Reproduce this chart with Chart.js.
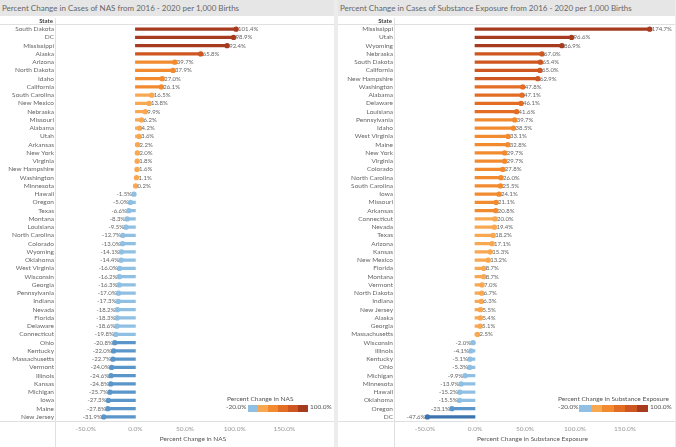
<!DOCTYPE html>
<html>
<head>
<meta charset="utf-8">
<script src="https://cdn.jsdelivr.net/npm/chart.js@4/dist/chart.umd.min.js"></script>
<style>
  body { margin: 0; width: 676px; height: 447px; background: #fff; position: relative; overflow: hidden; font-family: Lato, "Open Sans", sans-serif; }
  .panel { position: absolute; top: 0; height: 447px; background: #fff; }
  .title { position: absolute; left: 0; top: 0; right: 0; height: 16px; background: #e6e6e6; color: #666; font-size: 8px; line-height: 16px; padding-left: 2px; white-space: nowrap; }
  .gap { position: absolute; top: 0; height: 447px; background: #ececec; }
  canvas { position: absolute; left: 0; top: 16px; }
  .legend { position: absolute; font-size: 6.5px; color: #555; white-space: nowrap; }
  .lbar { position: absolute; height: 7px; display: flex; }
  .lbar div { flex: 1; }
</style>
</head>
<body>
<div class="panel" id="p1" style="left:0;width:334px;">
  <div class="title">Percent Change in Cases of NAS from 2016 - 2020 per 1,000 Births</div>
  <canvas id="nasChart" width="334" height="431"></canvas>
</div>
<div class="gap" style="left:334px;width:4px;"></div>
<div class="panel" id="p2" style="left:338px;width:337px;">
  <div class="title">Percent Change in Cases of Substance Exposure from 2016 - 2020 per 1,000 Births</div>
  <canvas id="seChart" width="337" height="431"></canvas>
</div>
<div class="gap" style="left:675px;width:1px;"></div>

<div class="legend" style="left:227px;top:395px;">Percent Change in NAS</div>
<div class="legend" style="left:226px;top:403px;">-20.0%</div>
<div class="lbar" id="leg1" style="left:248px;top:405px;width:60px;"></div>
<div class="legend" style="left:310px;top:403px;">100.0%</div>

<div class="legend" style="left:558px;top:395px;">Percent Change in Substance Exposure</div>
<div class="legend" style="left:558px;top:403px;">-20.0%</div>
<div class="lbar" id="leg2" style="left:579px;top:405px;width:69px;"></div>
<div class="legend" style="left:650px;top:403px;">100.0%</div>

<script>
// NAS panel
const nasStates = ['South Dakota','DC','Mississippi','Alaska','Arizona','North Dakota','Idaho','California',
  'South Carolina','New Mexico','Nebraska','Missouri','Alabama','Utah','Arkansas','New York','Virginia',
  'New Hampshire','Washington','Minnesota','Hawaii','Oregon','Texas','Montana','Louisiana','North Carolina',
  'Colorado','Wyoming','Oklahoma','West Virginia','Wisconsin','Georgia','Pennsylvania','Indiana','Nevada',
  'Florida','Delaware','Connecticut','Ohio','Kentucky','Massachusetts','Vermont','Illinois','Kansas',
  'Michigan','Iowa','Maine','New Jersey'];
const nasValues = [101.4, 98.9, 92.4, 65.8, 39.7, 37.9, 27.0, 26.1, 16.5, 13.8, 9.9, 6.2, 4.2, 3.6, 2.2, 2.0, 1.8,
  1.6, 1.1, 0.2, -1.5, -5.0, -6.6, -8.3, -9.5, -12.7, -13.0, -14.1, -14.4, -16.0, -16.2, -16.3, -17.0, -17.3,
  -18.2, -18.3, -18.6, -19.8, -20.8, -22.0, -22.7, -24.0, -24.6, -24.8, -25.7, -27.3, -27.8, -31.9];

// Substance exposure panel
const seStates = ['Mississippi','Utah','Wyoming','Nebraska','South Dakota','California','New Hampshire',
  'Washington','Alabama','Delaware','Louisiana','Pennsylvania','Idaho','West Virginia','Maine','New York',
  'Virginia','Colorado','North Carolina','South Carolina','Iowa','Missouri','Arkansas','Connecticut','Nevada',
  'Texas','Arizona','Kansas','New Mexico','Florida','Montana','Vermont','North Dakota','Indiana','New Jersey',
  'Alaska','Georgia','Massachusetts','Wisconsin','Illinois','Kentucky','Ohio','Michigan','Minnesota',
  'Hawaii','Oklahoma','Oregon','DC'];
const seValues = [174.7, 96.6, 86.9, 67.0, 65.4, 65.0, 62.9, 47.8, 47.1, 46.1, 41.6, 39.7, 38.5, 33.1, 32.8,
  29.7, 29.7, 27.8, 26.0, 25.5, 24.1, 21.1, 20.8, 20.0, 19.4, 18.2, 17.1, 15.3, 13.2, 8.7, 8.7, 7.0, 6.7, 6.3,
  5.5, 5.4, 5.1, 2.5, -2.0, -4.1, -5.1, -5.3, -9.9, -13.9, -15.2, -15.5, -23.1, -47.6];

const xTickValues = [-50, 0, 50, 100, 150];
const legendColors = ['#8fc0e3', '#f9a852', '#f28b30', '#e36d25', '#cd5621', '#a63b1f'];
const deepBlue = '#3b74ae';
const midBlue = '#5b96cb';

function colorFor(v) {
  if (v < -40) return deepBlue;
  if (v < -20) return midBlue;
  if (v < 0) return legendColors[0];
  if (v <= 20) return legendColors[1];
  if (v < 40) return legendColors[2];
  if (v < 60) return legendColors[3];
  if (v < 80) return legendColors[4];
  return legendColors[5];
}

Chart.defaults.font.family = 'Lato, "Open Sans", sans-serif';

const framePlugin = {
  id: 'frame',
  afterDatasetsDraw(chart) {
    const ctx = chart.ctx;
    const a = chart.chartArea;
    const meta = chart.getDatasetMeta(1);
    const vals = chart.data.datasets[1].data;
    ctx.save();
    ctx.font = '6px Lato, sans-serif';
    ctx.fillStyle = '#666';
    ctx.textBaseline = 'middle';
    meta.data.forEach((pt, i) => {
      const v = vals[i];
      const txt = v.toFixed(1) + '%';
      if (v >= 0) { ctx.textAlign = 'left'; ctx.fillText(txt, pt.x + 2, pt.y); }
      else { ctx.textAlign = 'right'; ctx.fillText(txt, pt.x - 2, pt.y); }
    });
    // frame lines
    ctx.strokeStyle = '#e0e0e0';
    ctx.lineWidth = 1;
    ctx.beginPath();
    ctx.moveTo(0, a.top - 0.5); ctx.lineTo(chart.width, a.top - 0.5);
    ctx.moveTo(0, a.bottom + 0.5); ctx.lineTo(chart.width, a.bottom + 0.5);
    ctx.moveTo(a.left - 0.5, 2); ctx.lineTo(a.left - 0.5, chart.height);
    ctx.stroke();
    ctx.font = 'bold 6px Lato, sans-serif';
    ctx.fillStyle = '#444';
    ctx.textAlign = 'right';
    ctx.fillText('State', a.left - 3, a.top - 4);
    ctx.restore();
  }
};

function buildPanel(id, states, values, axisTitle, yWidth, padRight, xMax) {
  const colors = values.map(colorFor);
  return new Chart(document.getElementById(id), {
    type: 'bar',
    data: {
      labels: states,
      datasets: [{
        data: values,
        backgroundColor: colors,
        barThickness: 2.6,
        order: 2
      }, {
        type: 'line',
        indexAxis: 'y',
        data: values,
        showLine: false,
        pointRadius: 2.7,
        pointBorderWidth: 0,
        pointBackgroundColor: colors,
        order: 1
      }]
    },
    options: {
      indexAxis: 'y',
      responsive: false,
      animation: false,
      layout: { padding: { top: 9, right: padRight, left: 0, bottom: 0 } },
      plugins: { legend: { display: false }, tooltip: { enabled: false } },
      scales: {
        x: {
          min: -80, max: xMax,
          grid: { display: false, drawTicks: false },
          border: { display: false },
          afterBuildTicks: (s) => { s.ticks = xTickValues.map(v => ({ value: v })); },
          afterFit: (s) => { s.height = 26; },
          ticks: { color: '#999', font: { size: 6.5 }, padding: 4, callback: (v) => Number(v).toFixed(1) + '%' },
          title: { display: true, text: axisTitle, color: '#555', font: { size: 6.5 }, padding: { top: 0, bottom: 4 } }
        },
        y: {
          type: 'category',
          grid: { display: false, drawTicks: false },
          border: { display: false },
          afterFit: (s) => { s.width = yWidth; },
          ticks: { color: '#666', font: { size: 6.5 }, padding: 2, autoSkip: false }
        }
      }
    },
    plugins: [framePlugin]
  });
}

buildPanel('nasChart', nasStates, nasValues, 'Percent Change in NAS', 56, 2, 196);
buildPanel('seChart', seStates, seValues, 'Percent Change in Substance Exposure', 57, 5, 195);

['leg1', 'leg2'].forEach(id => {
  const bar = document.getElementById(id);
  legendColors.forEach(c => {
    const d = document.createElement('div');
    d.style.background = c;
    bar.appendChild(d);
  });
});
</script>
</body>
</html>
